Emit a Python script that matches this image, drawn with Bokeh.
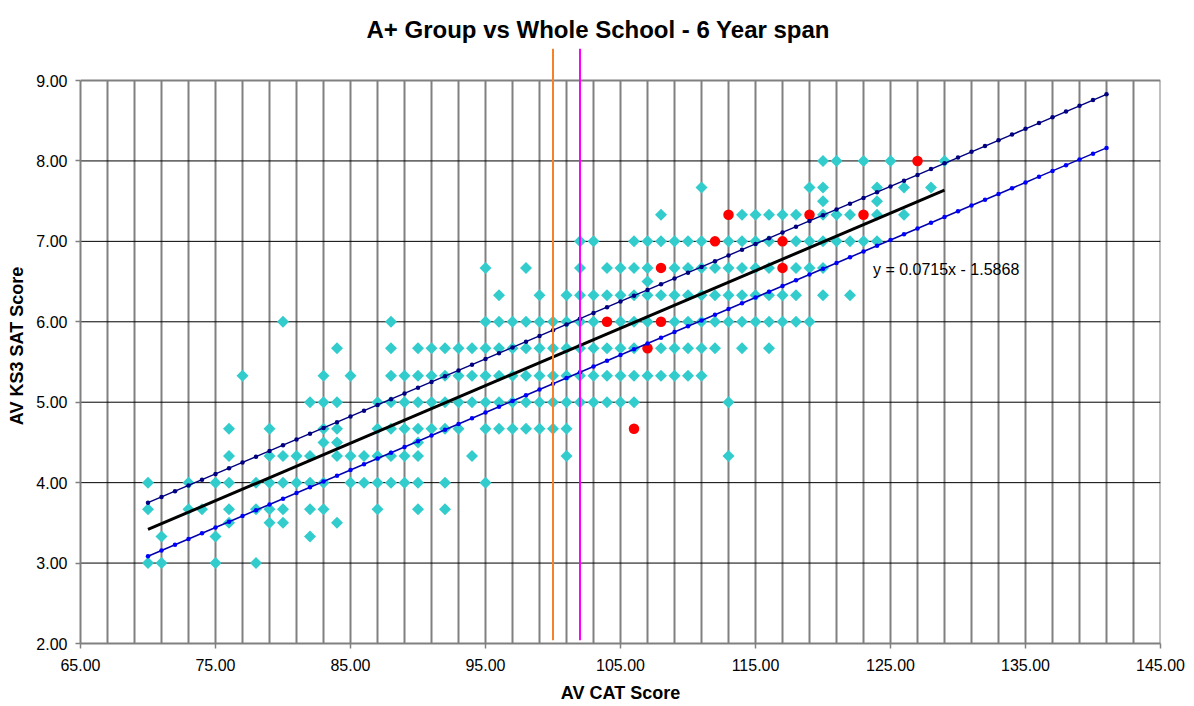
import numpy as np
from bokeh.plotting import figure
from bokeh.models import Range1d, FixedTicker, NumeralTickFormatter, Label
from bokeh.embed import file_html
from bokeh.resources import INLINE

FONT = "Liberation Sans"

TITLE = "A+ Group vs Whole School - 6 Year span"
X_LABEL = "AV CAT Score"
Y_LABEL = "AV KS3 SAT Score"
EQUATION = "y = 0.0715x - 1.5868"

X_TICKS = [65, 75, 85, 95, 105, 115, 125, 135, 145]
Y_TICKS = [2, 3, 4, 5, 6, 7, 8, 9]

# Whole school: average KS3 SAT level -> CAT scores of pupils at that level
WS_LEVELS = [8.00, 7.67, 7.50, 7.33, 7.00, 6.67, 6.50, 6.33, 6.00, 5.67,
             5.33, 5.00, 4.67, 4.50, 4.33, 4.00, 3.67, 3.50, 3.33, 3.00]
WS_X_BY_LEVEL = [
    [120, 121, 123, 125, 129],
    [111, 119, 120, 124, 126, 128],
    [120, 124],
    [108, 114, 115, 116, 117, 118, 120, 121, 122, 124, 126],
    [102, 103, 106, 107, 108, 109, 110, 111, 113, 114, 115, 116, 118, 119, 120,
     121, 122, 123, 124],
    [95, 98, 102, 104, 105, 106, 107, 109, 110, 111, 112, 113, 114, 115, 116,
     118, 119, 120],
    [107],
    [96, 99, 101, 102, 103, 104, 105, 106, 107, 108, 109, 110, 111, 112, 113,
     114, 115, 116, 117, 118, 120, 122],
    [80, 88, 95, 96, 97, 98, 99, 100, 101, 102, 103, 105, 106, 107, 109, 110,
     111, 112, 113, 114, 115, 116, 117, 118, 119],
    [84, 88, 90, 91, 92, 93, 94, 95, 96, 97, 98, 99, 100, 101, 102, 103, 104,
     105, 106, 108, 109, 110, 111, 112, 114, 116],
    [77, 83, 85, 88, 89, 90, 91, 92, 93, 94, 95, 96, 97, 98, 99, 100, 101, 102,
     103, 104, 105, 106, 107, 108, 109, 110, 111],
    [82, 83, 84, 87, 88, 89, 90, 91, 92, 93, 94, 95, 96, 97, 98, 99, 100, 101,
     102, 103, 104, 105, 106, 113],
    [76, 79, 83, 84, 87, 88, 89, 90, 91, 92, 93, 95, 96, 97, 98, 99, 100, 101],
    [83, 84, 90],
    [76, 79, 80, 81, 82, 84, 85, 86, 87, 88, 89, 90, 94, 101, 113],
    [70, 73, 75, 76, 78, 79, 80, 81, 82, 83, 85, 86, 87, 88, 89, 90, 92, 95],
    [70, 73, 74, 76, 78, 79, 80, 82, 83, 87, 90, 92],
    [76, 79, 80, 84],
    [71, 75, 82],
    [70, 71, 75, 78],
]

# A+ group
APLUS_X = [127, 113, 119, 123, 112, 117, 108, 117, 104, 108, 107, 106]
APLUS_Y = [8.00, 7.33, 7.33, 7.33, 7.00, 7.00, 6.67, 6.67, 6.00, 6.00, 5.67, 4.67]

# Trend line (as printed on the chart) and +/- one sub-level band
TREND_SLOPE = 0.0715
TREND_INTERCEPT = -1.5868
TREND_X = [70, 129]
BAND_OFFSET = 0.333
BAND_X = list(range(70, 142))

# Reference CAT score markers (orange, magenta)
REF_X = [100, 102]

ws_x = [x for xs in WS_X_BY_LEVEL for x in xs]
ws_y = [lvl for lvl, xs in zip(WS_LEVELS, WS_X_BY_LEVEL) for _ in xs]

W, H = 1194, 706
Y_TOP = 9.398
p = figure(width=W, height=H, x_range=Range1d(65, 145), y_range=Range1d(2, Y_TOP),
           output_backend="svg", toolbar_location=None,
           min_border_left=80, min_border_right=34, min_border_top=48,
           min_border_bottom=63)
p.outline_line_color = None
p.xgrid.grid_line_color = None
p.ygrid.grid_line_color = None
p.background_fill_color = "white"
p.border_fill_color = "white"

p.title.text = TITLE
p.title.text_font = FONT
p.title.text_font_size = "24px"
p.title.text_font_style = "bold"
p.title.text_color = "black"
p.title.align = "left"
p.title.offset = 286
p.title.vertical_align = "top"
p.title.standoff = 8

for ax, ticks in ((p.xaxis, X_TICKS), (p.yaxis, Y_TICKS)):
    ax.ticker = FixedTicker(ticks=ticks)
    ax.formatter = NumeralTickFormatter(format="0.00")
    ax.axis_line_color = "#808080"
    ax.axis_line_width = 2
    ax.major_tick_line_color = "#808080"
    ax.major_tick_line_width = 1.5
    ax.major_tick_out = 5
    ax.major_tick_in = 0
    ax.minor_tick_line_color = None
    ax.major_label_text_font = FONT
    ax.major_label_text_font_size = "16px"
    ax.major_label_text_color = "black"
    ax.axis_label_text_font = FONT
    ax.axis_label_text_font_size = "18px"
    ax.axis_label_text_font_style = "bold"
    ax.axis_label_text_color = "black"
p.yaxis.bounds = (2, 9)
p.xaxis.major_label_standoff = 10
p.yaxis.major_label_standoff = 8
p.xaxis.axis_label = X_LABEL
p.yaxis.axis_label = Y_LABEL
p.xaxis.axis_label_standoff = 9
p.yaxis.axis_label_standoff = 6

# plot-area grid
vx = list(range(67, 145, 2)) + [145]
p.segment(x0=vx, y0=[2] * len(vx), x1=vx, y1=[9] * len(vx),
          line_color="#808080", line_width=2)
hy = [3, 4, 5, 6, 7, 8]
p.segment(x0=[65] * len(hy), y0=hy, x1=[145] * len(hy), y1=hy,
          line_color="black", line_width=1)
p.segment(x0=[65], y0=[9], x1=[145], y1=[9], line_color="#808080", line_width=2)

# whole school
p.scatter(ws_x, ws_y, marker="square", angle=np.pi / 4, size=8.5,
          fill_color="#33CCCC", line_color=None)
# A+ group
p.scatter(APLUS_X, APLUS_Y, marker="circle", size=10.5,
          fill_color="#FF0000", line_color=None)

bx = np.array(BAND_X, dtype=float)
upper = TREND_SLOPE * bx + TREND_INTERCEPT + BAND_OFFSET
lower = TREND_SLOPE * bx + TREND_INTERCEPT - BAND_OFFSET
p.line(bx, upper, line_color="#000080", line_width=1.5)
p.scatter(bx, upper, marker="circle", size=4.5, fill_color="#000080", line_color=None)
p.line(bx, lower, line_color="#0000B0", line_width=1.5)
p.scatter(bx, lower, marker="circle", size=4.5, fill_color="#0000FF", line_color=None)

tx = np.array(TREND_X, dtype=float)
p.line(tx, TREND_SLOPE * tx + TREND_INTERCEPT, line_color="black", line_width=3)

for xr, col in zip(REF_X, ["#F5822A", "#FF00FF"]):
    p.segment(x0=[xr], y0=[2.04], x1=[xr], y1=[Y_TOP], line_color=col, line_width=2)

p.add_layout(Label(x=123.7, y=6.65, text=EQUATION, text_font=FONT,
                   text_font_size="16px", text_color="black",
                   text_align="left", text_baseline="alphabetic"))

open("out.html", "w").write(file_html(p, INLINE))
